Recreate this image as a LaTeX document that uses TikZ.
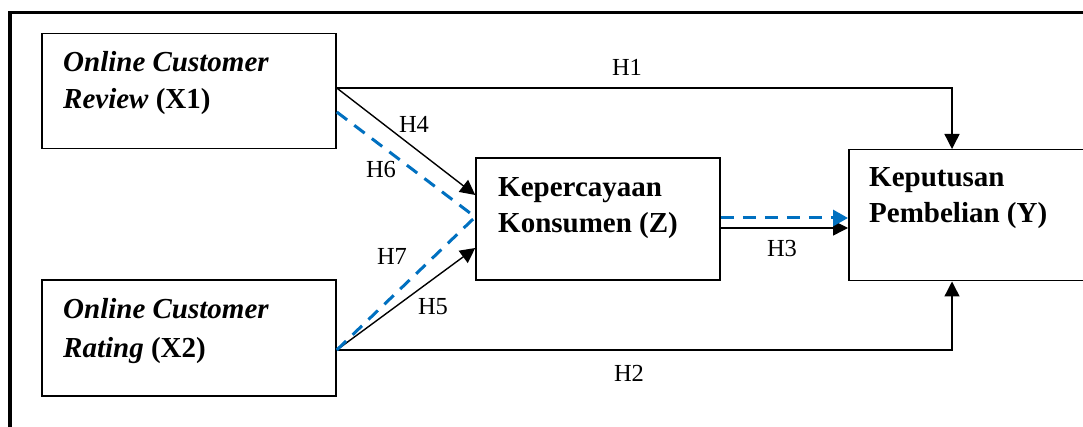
\documentclass[tikz,border=0pt]{standalone}
\usepackage{fontspec}
\setmainfont{Liberation Serif}
\usetikzlibrary{arrows.meta,calc}
\definecolor{hblue}{HTML}{0070C0}
\begin{document}
\begin{tikzpicture}[x=1pt,y=-1pt,
  box/.style={draw,line width=1.5pt,inner sep=0pt},
  boxtxt/.style={font=\fontsize{29}{37}\selectfont\bfseries,align=left,anchor=base west,inner sep=0pt},
  hl/.style={font=\fontsize{24.5}{28}\selectfont,anchor=base,inner sep=0pt},
  arr/.style={line width=1.4pt,-{Triangle[length=15pt,width=15pt]}},
  barr/.style={hblue,line width=3pt,dash pattern=on 13pt off 9pt}]
\clip (0,0) rectangle (1083,427);
\fill[white] (0,0) rectangle (1083,427);
% frame
\draw[line width=3.5pt] (10,440) -- (10,12.5) -- (1100,12.5);
% boxes
\node[box,minimum width=294pt,minimum height=115pt] (x1) at (189,91) {};
\node[box,minimum width=294pt,minimum height=116pt] (x2) at (189,338) {};
\node[box,minimum width=244pt,minimum height=122pt] (z) at (598,219) {};
\node[box,minimum width=300pt,minimum height=131pt,anchor=north west] (y) at (848,149) {};
% texts (anchor at baseline of last line)
\node[boxtxt] (x1t) at (63,109) {{\itshape Online Customer}\\{\itshape Review} (X1)};
\node[boxtxt,font=\fontsize{29}{39}\selectfont\bfseries] (x2t) at (63,357) {{\itshape Online Customer}\\{\itshape Rating} (X2)};
\node[boxtxt,font=\fontsize{29}{36}\selectfont\bfseries] (zt) at (498,233) {Kepercayaan\\Konsumen (Z)};
\node[boxtxt,font=\fontsize{29}{36}\selectfont\bfseries] (yt) at (869,223) {Keputusan\\Pembelian (Y)};
% connectors
\draw[arr] ([yshift=3pt]x1.east) -| ([xshift=104pt]y.north west);
\draw[arr] ([yshift=-12pt]x2.east) -| ([xshift=104pt]y.south west);
\draw[arr] ([yshift=3pt]x1.east) -- ([yshift=24pt]z.west);
\draw[arr] ([yshift=-12pt]x2.east) -- ([yshift=-29pt]z.west);
\draw[barr] ([yshift=-21pt]x1.east) -- ([yshift=2pt]z.west);
\draw[barr] ([yshift=-12pt]x2.east) -- ([yshift=2pt]z.west);
\draw[arr] ([yshift=-9pt]z.east) -- ([yshift=-9pt]z.east -| y.west);
\draw[barr,-{Triangle[length=15pt,width=16pt]}] ([yshift=1pt]z.east) -- ([yshift=1pt]z.east -| y.west);
% labels
\node[hl] (h1) at (627,76) {H1};
\node[hl] (h2) at (629,381) {H2};
\node[hl] (h3) at (782,257) {H3};
\node[hl] (h4) at (414,133) {H4};
\node[hl] (h5) at (433,315) {H5};
\node[hl] (h6) at (381,178) {H6};
\node[hl] (h7) at (392,265) {H7};
\end{tikzpicture}
\end{document}
